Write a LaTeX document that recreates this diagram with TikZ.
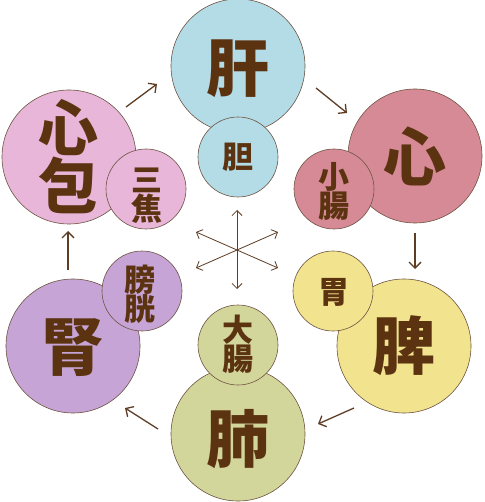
\documentclass[tikz,border=0pt]{standalone}
\usepackage{fontspec}
\newfontfamily\cjk{Noto Sans CJK JP}
\usetikzlibrary{arrows.meta}
\definecolor{cGan}{HTML}{B3DCE6}
\definecolor{cXin}{HTML}{D68A95}
\definecolor{cPi}{HTML}{F2E48E}
\definecolor{cFei}{HTML}{D3D69B}
\definecolor{cShen}{HTML}{C6A4D5}
\definecolor{cXb}{HTML}{E7B6D8}
\definecolor{txt}{HTML}{5C3311}
\definecolor{edge}{HTML}{6E5443}
\definecolor{arr}{HTML}{5E3D25}
\tikzset{
  bigc/.style={circle, draw=edge, line width=0.6pt, minimum size=134pt, inner sep=0pt},
  smallc/.style={circle, draw=edge, line width=0.6pt, minimum size=80pt, inner sep=0pt},
  bigt/.style={text=txt, font=\cjk\bfseries\fontsize{63}{63}\selectfont, inner sep=0pt, align=center},
  smallt/.style={text=txt, font=\cjk\bfseries\fontsize{31}{29}\selectfont, inner sep=0pt, align=center},
  cyc/.style={draw=arr, line width=1.3pt, -{Straight Barb[length=6pt,width=12pt]}},
  star/.style={draw=arr, line width=0.8pt, {Straight Barb[length=5pt,width=10pt]}-{Straight Barb[length=5pt,width=10pt]}},
}
\begin{document}
\begin{tikzpicture}[x=1pt,y=-1pt]
\useasboundingbox (0,0) rectangle (484,502);
\fill[white] (0,0) rectangle (484,502);
% big circles
\node[bigc, fill=cGan] (gan) at (238,66) {};
\node[bigc, fill=cXin] (xin) at (415,156) {};
\node[bigc, fill=cPi] (pi) at (404,346) {};
\node[bigc, fill=cFei] (fei) at (238,434) {};
\node[bigc, fill=cShen] (shen) at (73,346) {};
\node[bigc, fill=cXb] (xb) at (69,157) {};
% small circles
\node[smallc, fill=cGan] (dan) at (238,157) {};
\node[smallc, fill=cXin] (xc) at (334,189) {};
\node[smallc, fill=cPi] (wei) at (333,291) {};
\node[smallc, fill=cFei] (dc) at (238,345) {};
\node[smallc, fill=cShen] (pg) at (142,291) {};
\node[smallc, fill=cXb] (sj) at (146,189) {};
% big texts
\node[bigt] (tgan) at (238,69) {肝};
\node[bigt] (txin) at (415,156) {心};
\node[bigt] (tpi) at (404,346) {脾};
\node[bigt] (tfei) at (238,439) {肺};
\node[bigt] (tshen) at (73,348) {腎};
\node[bigt, font=\cjk\bfseries\fontsize{60}{55}\selectfont] (txb) at (68,157) {心\\包};
% small texts
\node[smallt] (tdan) at (238,157) {胆};
\node[smallt] (txc) at (334,191) {小\\腸};
\node[smallt] (twei) at (334,292) {胃};
\node[smallt] (tdc) at (238,344) {大\\腸};
\node[smallt] (tpg) at (140,294) {膀\\胱};
\node[smallt] (tsj) at (147,196) {三\\焦};
% cycle arrows
\coordinate (a1s) at (126,107); \coordinate (a1e) at (157,84);
\coordinate (a2s) at (316,88);  \coordinate (a2e) at (347,113);
\coordinate (a3s) at (415,233); \coordinate (a3e) at (415,269);
\coordinate (a4s) at (354,408); \coordinate (a4e) at (318,424);
\coordinate (a5s) at (158,429); \coordinate (a5e) at (125,408);
\coordinate (a6s) at (68,270);  \coordinate (a6e) at (68,231);
\draw[cyc] (a1s) -- (a1e);
\draw[cyc] (a2s) -- (a2e);
\draw[cyc] (a3s) -- (a3e);
\draw[cyc] (a4s) -- (a4e);
\draw[cyc] (a5s) -- (a5e);
\draw[cyc] (a6s) -- (a6e);
% star
\coordinate (s1) at (237,210); \coordinate (s2) at (237,289);
\coordinate (s3) at (196,232); \coordinate (s4) at (278,268);
\coordinate (s5) at (278,232); \coordinate (s6) at (196,268);
\draw[star] (s1) -- (s2);
\draw[star] (s3) -- (s4);
\draw[star] (s5) -- (s6);
\end{tikzpicture}
\end{document}
